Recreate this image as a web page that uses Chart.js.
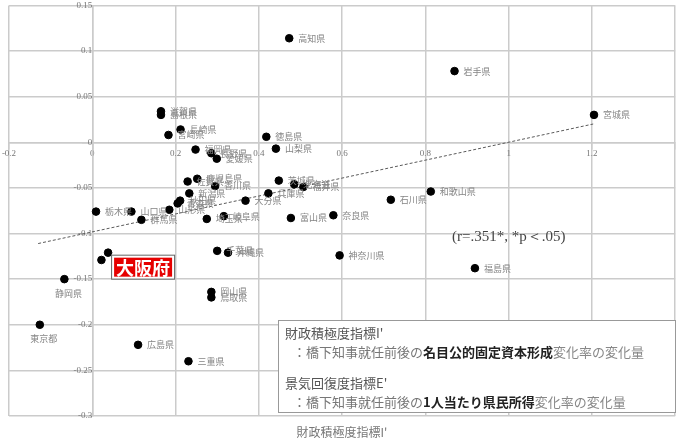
<!DOCTYPE html>
<html>
<head>
<meta charset="utf-8">
<script src="https://cdn.jsdelivr.net/npm/chart.js@4.4.0/dist/chart.umd.min.js"></script>
<style>
html, body { margin: 0; padding: 0; background: #fff; }
</style>
</head>
<body>
<canvas id="c" width="680" height="441"></canvas>
<script>
// prefecture, fiscal index I' (x), recovery index E' (y)
var prefectures = ['高知県','岩手県','宮城県','滋賀県','島根県','長崎県','宮崎県','徳島県','山梨県',
  '福岡県','長野県','愛媛県','佐賀県','鹿児島県','香川県','新潟県','秋田県','青森県','山形県',
  '大分県','兵庫県','茨城県','北海道','福井県','栃木県','山口県','群馬県','埼玉県','岐阜県',
  '富山県','奈良県','和歌山県','石川県','神奈川県','福島県','千葉県','沖縄県','大阪府','京都府',
  '静岡県','岡山県','鳥取県','東京都','広島県','三重県'];
var indexI = [0.473, 0.870, 1.205, 0.165, 0.165, 0.212, 0.183, 0.418, 0.441,
  0.248, 0.286, 0.299, 0.229, 0.252, 0.295, 0.233, 0.211, 0.205, 0.185,
  0.368, 0.423, 0.448, 0.485, 0.507, 0.009, 0.094, 0.118, 0.275, 0.316,
  0.477, 0.579, 0.813, 0.717, 0.594, 0.919, 0.300, 0.326, 0.038, 0.022,
  -0.067, 0.286, 0.286, -0.126, 0.110, 0.231];
var indexE = [0.114, 0.078, 0.030, 0.034, 0.030, 0.014, 0.008, 0.006, -0.007,
  -0.008, -0.012, -0.018, -0.043, -0.040, -0.048, -0.056, -0.064, -0.067, -0.074,
  -0.064, -0.056, -0.042, -0.046, -0.049, -0.076, -0.076, -0.085, -0.084, -0.081,
  -0.083, -0.080, -0.054, -0.063, -0.124, -0.138, -0.119, -0.121, -0.121, -0.129,
  -0.150, -0.164, -0.170, -0.200, -0.222, -0.240];

// regression line end points
var trendX = [-0.13, 1.203];
var trendY = [-0.111, 0.020];

var xTicks = [-0.2, 0, 0.2, 0.4, 0.6, 0.8, 1, 1.2, 1.4];
var yTicks = [0.15, 0.1, 0.05, 0, -0.05, -0.1, -0.15, -0.2, -0.25, -0.3];

var below = ['静岡県', '東京都'];
var gridCol = '#cbcbcb';

function fmt(v) {
  return String(Number(v.toFixed(2)));
}

var labelPlugin = {
  id: 'prefLabels',
  afterDatasetsDraw: function(chart) {
    var ctx = chart.ctx, xs = chart.scales.x, ys = chart.scales.y;
    ctx.save();
    ctx.font = '9px "Noto Sans CJK JP"';
    ctx.fillStyle = '#858585';
    ctx.textBaseline = 'middle';
    prefectures.forEach(function(name, i) {
      if (name === '大阪府') return;
      var px = xs.getPixelForValue(indexI[i]);
      var py = ys.getPixelForValue(indexE[i]);
      if (below.indexOf(name) >= 0) {
        ctx.textAlign = 'center';
        ctx.fillText(name, px + 4, py + 14);
      } else {
        ctx.textAlign = 'left';
        ctx.fillText(name, px + 9, py);
      }
    });

    // highlighted Osaka
    var k = prefectures.indexOf('大阪府');
    var ox = xs.getPixelForValue(indexI[k]) + 3;
    var oy = ys.getPixelForValue(indexE[k]) + 2;
    ctx.fillStyle = '#fff';
    ctx.fillRect(ox, oy, 63, 24);
    ctx.strokeStyle = '#666';
    ctx.lineWidth = 1;
    ctx.strokeRect(ox + 0.5, oy + 0.5, 63, 24);
    ctx.fillStyle = '#e60000';
    ctx.fillRect(ox + 3, oy + 3, 58, 19);
    ctx.fillStyle = '#fff';
    ctx.font = 'bold 18px "Noto Sans CJK JP"';
    ctx.textAlign = 'center';
    ctx.fillText('大阪府', ox + 32, oy + 13);
    ctx.restore();
  },
  afterDraw: function(chart) {
    var ctx = chart.ctx, xs = chart.scales.x, ys = chart.scales.y;
    ctx.save();
    // correlation note
    ctx.font = '15px "Liberation Serif"';
    ctx.fillStyle = '#444';
    ctx.textAlign = 'center';
    ctx.textBaseline = 'middle';
    ctx.fillText('(r=.351*, *p＜.05)', xs.getPixelForValue(1.0), ys.getPixelForValue(-0.104));

    // explanation box
    var bx = 278, by = 320, bw = 397, bh = 92;
    ctx.fillStyle = '#fff';
    ctx.fillRect(bx, by, bw, bh);
    ctx.strokeStyle = '#999';
    ctx.lineWidth = 1;
    ctx.strokeRect(bx + 0.5, by + 0.5, bw, bh);

    function runs(parts, x, y) {
      parts.forEach(function(p) {
        ctx.font = (p[2] ? 'bold ' : '') + '13px "Noto Sans CJK JP"';
        ctx.fillStyle = p[1];
        ctx.fillText(p[0], x, y);
        x += ctx.measureText(p[0]).width;
      });
    }
    ctx.textAlign = 'left';
    runs([["財政積極度指標I'", '#555', false]], 285, 333);
    runs([['：橋下知事就任前後の', '#777', false], ['名目公的固定資本形成', '#222', true], ['変化率の変化量', '#888', false]], 293, 352);
    runs([["景気回復度指標E'", '#555', false]], 285, 383);
    runs([['：橋下知事就任前後の', '#777', false], ['1人当たり県民所得', '#222', true], ['変化率の変化量', '#888', false]], 293, 402);

    // x axis title
    ctx.font = '12px "Noto Sans CJK JP"';
    ctx.fillStyle = '#777';
    ctx.textAlign = 'center';
    ctx.fillText("財政積極度指標I'", 342, 432);
    ctx.restore();
  }
};

var points = indexI.map(function(v, i) { return {x: v, y: indexE[i]}; });
var trend = trendX.map(function(v, i) { return {x: v, y: trendY[i]}; });

new Chart(document.getElementById('c'), {
  type: 'scatter',
  data: {
    datasets: [
      {
        label: 'prefectures',
        data: points,
        backgroundColor: '#000',
        borderColor: '#000',
        pointRadius: 3.8,
        pointHoverRadius: 3.8
      },
      {
        type: 'line',
        label: 'trend',
        data: trend,
        borderColor: '#5a5a5a',
        borderWidth: 1,
        borderDash: [3, 2],
        pointRadius: 0,
        fill: false
      }
    ]
  },
  options: {
    responsive: false,
    animation: false,
    devicePixelRatio: 1,
    layout: { padding: { left: 9, top: 5, right: 0, bottom: 25 } },
    plugins: { legend: { display: false }, tooltip: { enabled: false } },
    scales: {
      x: {
        type: 'linear',
        min: -0.2, max: 1.4,
        position: { y: 0 },
        afterBuildTicks: function(s) { s.ticks = xTicks.map(function(v) { return {value: v}; }); },
        ticks: {
          autoSkip: false, maxRotation: 0, padding: 0,
          color: '#777',
          font: { family: 'Liberation Serif', size: 9 },
          callback: function(v) { return v === 1.4 ? '' : fmt(v); }
        },
        grid: { color: gridCol, lineWidth: 1.5, tickLength: 6 },
        border: { color: gridCol, width: 1.5 }
      },
      y: {
        type: 'linear',
        min: -0.3, max: 0.15,
        position: { x: 0 },
        afterBuildTicks: function(s) { s.ticks = yTicks.map(function(v) { return {value: v}; }); },
        ticks: {
          autoSkip: false, padding: 0,
          color: '#777',
          font: { family: 'Liberation Serif', size: 9 },
          callback: function(v) { return fmt(v); }
        },
        grid: { color: gridCol, lineWidth: 1.5, tickLength: 10 },
        border: { color: gridCol, width: 1.5 }
      }
    }
  },
  plugins: [labelPlugin]
});
</script>
</body>
</html>
